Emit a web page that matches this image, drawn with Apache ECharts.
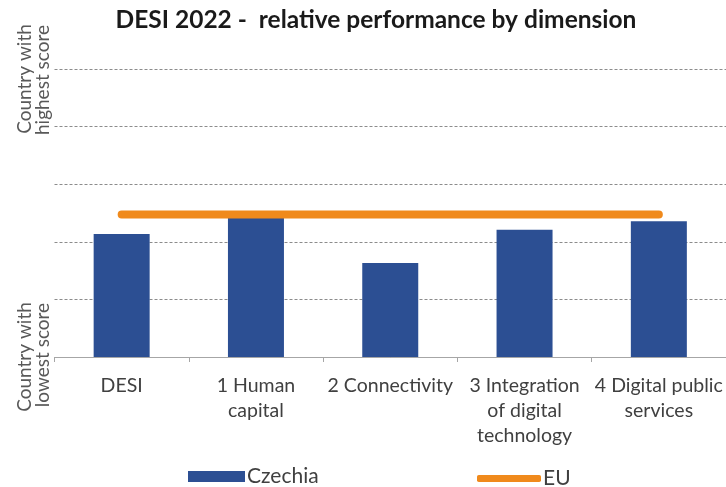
<!DOCTYPE html>
<html>
<head>
<meta charset="utf-8">
<script src="https://cdn.jsdelivr.net/npm/echarts@6/dist/echarts.min.js"></script>
<style>
html,body{margin:0;padding:0;background:#fff;}
#chart{width:726px;height:487px;}
</style>
</head>
<body>
<div id="chart"></div>
<script>
var categories = ['DESI', '1 Human\ncapital', '2 Connectivity', '3 Integration\nof digital\ntechnology', '4 Digital public\nservices'];
var czechiaValues = [0.427, 0.483, 0.326, 0.442, 0.471];
var euValues = [0.495, 0.495, 0.495, 0.495, 0.495];
var yTicks = [0, 0.2, 0.4, 0.6, 0.8, 1.0];
var titleText = 'DESI 2022 -  relative performance by dimension';
var topLabel = ['Country with', 'highest score'];
var bottomLabel = ['Country with', 'lowest score'];

var FONT = 'Lato, Carlito, "Open Sans", sans-serif';
var chart = echarts.init(document.getElementById('chart'), null, {renderer: 'canvas'});
chart.setOption({
  animation: false,
  backgroundColor: '#ffffff',
  title: {
    text: titleText,
    left: 371, top: 3, textAlign: 'center',
    textStyle: {fontFamily: FONT, fontWeight: 'bold', fontSize: 24.5, color: '#1a1a1a'}
  },
  grid: {left: 54.5, top: 69, width: 676, bottom: 130, containLabel: false},
  legend: [
    {
      data: [{name: 'Czechia', icon: 'rect'}],
      left: 183, top: 461, itemWidth: 57, itemHeight: 11, itemGap: 4,
      textStyle: {fontFamily: FONT, fontSize: 21, color: '#404040', padding: [0,0,0,-3]}
    },
    {
      data: [{name: 'EU', icon: 'roundRect'}],
      left: 472, top: 463, itemWidth: 64, itemHeight: 7, itemGap: 4,
      textStyle: {fontFamily: FONT, fontSize: 21, color: '#404040', padding: [0,0,0,-3]}
    }
  ],
  xAxis: {
    type: 'category',
    data: categories,
    axisLine: {show: true, lineStyle: {color: '#a6a6a6', width: 1}},
    axisTick: {show: true, length: 5, lineStyle: {color: '#a6a6a6'}},
    axisLabel: {fontFamily: FONT, fontSize: 19.5, color: '#404040', lineHeight: 25, margin: 16, interval: 0}
  },
  yAxis: {
    type: 'value',
    min: yTicks[0], max: yTicks[yTicks.length - 1], interval: 0.2,
    axisLine: {show: false}, axisTick: {show: false}, axisLabel: {show: false},
    splitLine: {show: true, lineStyle: {color: '#8c8c8c', type: [3, 2], width: 1}}
  },
  series: [
    {
      name: 'Czechia', type: 'bar', data: czechiaValues, barWidth: 56,
      itemStyle: {color: '#2c4f93'}, z: 2
    },
    {
      name: 'EU', type: 'line', data: euValues, symbol: 'none',
      lineStyle: {color: '#f08a1c', width: 8, cap: 'round'},
      itemStyle: {color: '#f08a1c'}, z: 3
    }
  ],
  graphic: [
    {type: 'text', x: 25, y: 79, rotation: Math.PI / 2,
      style: {text: topLabel[0], font: '19px ' + FONT, fill: '#595959', textAlign: 'center', textVerticalAlign: 'middle'}},
    {type: 'text', x: 43, y: 80, rotation: Math.PI / 2,
      style: {text: topLabel[1], font: '19px ' + FONT, fill: '#595959', textAlign: 'center', textVerticalAlign: 'middle'}},
    {type: 'text', x: 25, y: 357, rotation: Math.PI / 2,
      style: {text: bottomLabel[0], font: '19px ' + FONT, fill: '#595959', textAlign: 'center', textVerticalAlign: 'middle'}},
    {type: 'text', x: 43, y: 355, rotation: Math.PI / 2,
      style: {text: bottomLabel[1], font: '19px ' + FONT, fill: '#595959', textAlign: 'center', textVerticalAlign: 'middle'}}
  ]
});
</script>
</body>
</html>
